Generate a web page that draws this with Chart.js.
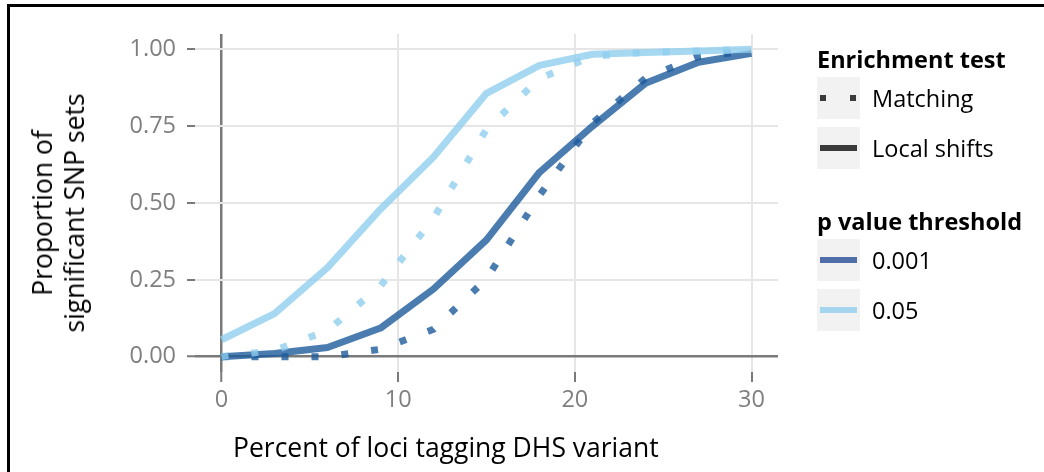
<!DOCTYPE html>
<html>
<head>
<meta charset="utf-8">
<script src="https://cdn.jsdelivr.net/npm/chart.js@4.4.1/dist/chart.umd.min.js"></script>
<style>
    body { margin: 0; background: #fff; font-family: "Open Sans", sans-serif; }
    #wrap { position: relative; width: 1044px; height: 472px; overflow: hidden; }
    #frame { position: absolute; left: 7px; top: 4px; width: 1100px; height: 600px;
             border-top: 3px solid #000; border-left: 3px solid #000; }
    #chart { position: absolute; left: 0; top: 0; }
    .xtitle { position: absolute; left: 233px; top: 429px; font-size: 26.5px; color: #000; white-space: nowrap; }
    .ytitle { position: absolute; left: 58px; top: 213px; font-size: 26.5px; color: #000; line-height: 32px;
              text-align: center; white-space: nowrap; transform: translate(-50%, -50%) rotate(-90deg); }
    #legend { position: absolute; left: 817px; top: 42px; font-size: 23.5px; color: #000; }
    .lg-title { font-weight: bold; height: 34px; line-height: 34px; }
    .lg-item { display: flex; align-items: center; height: 43px; margin-bottom: 7px; }
    .lg-key { width: 43px; height: 42px; background: #f2f2f2; margin-right: 12px; position: relative; }
    .lg-gap { height: 28px; }
</style>
</head>
<body>
<div id="wrap">
    <div id="frame"></div>
    <canvas id="chart" width="1044" height="472"></canvas>
    <div class="xtitle">Percent of loci tagging DHS variant</div>
    <div class="ytitle">Proportion of<br>significant SNP sets</div>
    <div id="legend"></div>
</div>
<script>
// data
const xValues = [0, 3, 6, 9, 12, 15, 18, 21, 24, 27, 30];
const shifts05 = [0.055, 0.14, 0.29, 0.48, 0.65, 0.857, 0.948, 0.984, 0.99, 0.995, 1.0];
const matching05 = [0, 0.02, 0.085, 0.23, 0.45, 0.74, 0.905, 0.978, 0.99, 0.995, 1.0];
const shifts001 = [0, 0.01, 0.03, 0.093, 0.22, 0.38, 0.60, 0.75, 0.89, 0.958, 0.987];
const matching001 = [0, 0, 0, 0.024, 0.089, 0.253, 0.525, 0.76, 0.906, 0.977, 0.995];
const xTicks = [0, 10, 20, 30];
const yTicks = [0, 0.25, 0.5, 0.75, 1.0];

const testNames = ['Matching', 'Local shifts'];
const thresholdNames = ['0.001', '0.05'];

const darkBlue = 'rgba(29, 91, 156, 0.8)';
const lightBlue = 'rgba(144, 206, 239, 0.8)';
const dotDash = [7, 23];

function toPoints(ys) {
    return xValues.map((x, i) => ({ x: x, y: ys[i] }));
}

function lineSet(label, ys, color, dash) {
    return {
        label: label,
        data: toPoints(ys),
        borderColor: color,
        borderWidth: 7,
        borderDash: dash,
        borderCapStyle: 'butt',
        borderJoinStyle: 'round',
        pointRadius: 0,
        tension: 0,
        fill: false
    };
}

const tickFont = { family: 'Open Sans', size: 23.5 };

new Chart(document.getElementById('chart'), {
    type: 'line',
    data: {
        datasets: [
            lineSet('Matching 0.05', matching05, lightBlue, dotDash),
            lineSet('Local shifts 0.05', shifts05, lightBlue, []),
            lineSet('Matching 0.001', matching001, darkBlue, dotDash),
            lineSet('Local shifts 0.001', shifts001, darkBlue, [])
        ]
    },
    options: {
        responsive: false,
        animation: false,
        layout: { padding: { top: 34, right: 266, left: 0, bottom: 0 } },
        plugins: { legend: { display: false }, tooltip: { enabled: false } },
        scales: {
            x: {
                type: 'linear',
                min: -1.5,
                max: 31.5,
                afterFit: function(scale) { scale.height = 100; },
                afterBuildTicks: function(scale) { scale.ticks = xTicks.map(v => ({ value: v })); },
                border: { display: false },
                grid: {
                    color: ctx => ctx.tick && ctx.tick.value === 0 ? '#7a7a7a' : '#e6e6e6',
                    lineWidth: ctx => ctx.tick && ctx.tick.value === 0 ? 2.5 : 2,
                    tickColor: '#7a7a7a',
                    tickLength: 10,
                    tickWidth: 2
                },
                ticks: { color: '#7f7f7f', font: tickFont, padding: 4, maxRotation: 0 }
            },
            y: {
                min: -0.05,
                max: 1.05,
                afterFit: function(scale) { scale.width = 195; },
                afterBuildTicks: function(scale) { scale.ticks = yTicks.map(v => ({ value: v })); },
                border: { display: false },
                grid: {
                    color: ctx => ctx.tick && ctx.tick.value === 0 ? '#7a7a7a' : '#e6e6e6',
                    lineWidth: ctx => ctx.tick && ctx.tick.value === 0 ? 2.5 : 2,
                    tickColor: '#7a7a7a',
                    tickLength: 8,
                    tickWidth: 2
                },
                ticks: {
                    color: '#7f7f7f',
                    font: tickFont,
                    padding: 11,
                    callback: v => v.toFixed(2)
                }
            }
        }
    }
});

// legend (two groups, as in the ggplot figure)
const legend = document.getElementById('legend');
function addTitle(text) {
    const d = document.createElement('div');
    d.className = 'lg-title';
    d.textContent = text;
    legend.appendChild(d);
}
function addItem(text, drawKey) {
    const row = document.createElement('div');
    row.className = 'lg-item';
    const key = document.createElement('canvas');
    key.className = 'lg-key';
    key.width = 43; key.height = 42;
    drawKey(key.getContext('2d'));
    const label = document.createElement('span');
    label.textContent = text;
    row.appendChild(key);
    row.appendChild(label);
    legend.appendChild(row);
}
function keyLine(color, dash) {
    return function(ctx) {
        ctx.strokeStyle = color;
        ctx.lineWidth = 6;
        ctx.setLineDash(dash);
        ctx.beginPath();
        ctx.moveTo(3, 21);
        ctx.lineTo(40, 21);
        ctx.stroke();
    };
}
addTitle('Enrichment test');
addItem(testNames[0], keyLine('#3a3a3a', [6, 24]));
addItem(testNames[1], keyLine('#3a3a3a', []));
const gap = document.createElement('div');
gap.className = 'lg-gap';
legend.appendChild(gap);
addTitle('p value threshold');
addItem(thresholdNames[0], keyLine('#4f6ea8', []));
addItem(thresholdNames[1], keyLine('#a6d5ef', []));
</script>
</body>
</html>
